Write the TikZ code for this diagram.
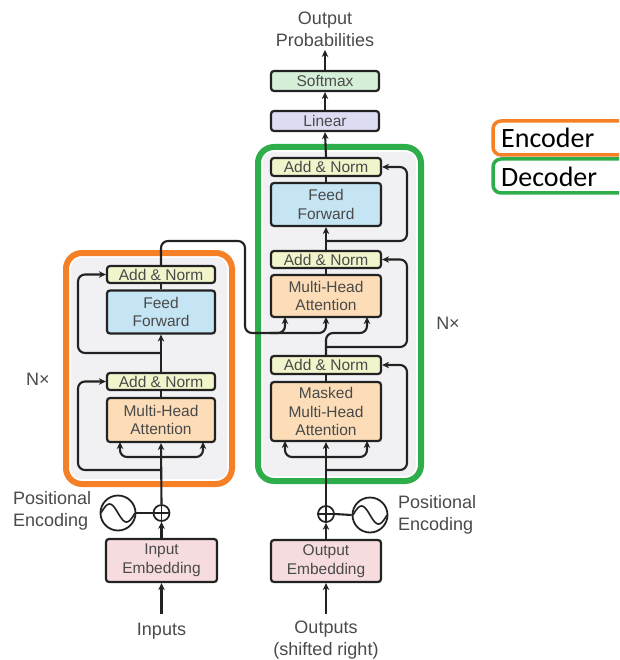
\documentclass[tikz,border=0pt]{standalone}
\usepackage{fontspec}
\setmainfont{Liberation Sans}
\newfontfamily\legfont{Carlito}
\usetikzlibrary{arrows.meta}
\definecolor{txt}{HTML}{4A4A4A}
\definecolor{edge}{HTML}{222222}
\definecolor{addc}{HTML}{F2F5CB}
\definecolor{ffc}{HTML}{C6E5F4}
\definecolor{mhac}{HTML}{FCDDB8}
\definecolor{embc}{HTML}{F6DCDF}
\definecolor{smc}{HTML}{D6EFD8}
\definecolor{linc}{HTML}{DCDCF2}
\definecolor{bgc}{HTML}{F1F1F4}
\definecolor{orangec}{HTML}{F58025}
\definecolor{greenc}{HTML}{2DAE4A}
\newcommand{\bfnt}{\fontsize{15.5}{18.5}\selectfont}
\newcommand{\ofnt}{\fontsize{18}{22}\selectfont}
\begin{document}
\begin{tikzpicture}[x=1pt,y=-1pt,
  blk/.style={draw=edge, line width=2.2pt, rounded corners=3pt, inner sep=0pt, align=center, font=\bfnt, text=txt},
  addbox/.style={blk, fill=addc, minimum height=17pt},
  ffbox/.style={blk, fill=ffc, minimum height=43pt},
  mhabox/.style={blk, fill=mhac},
  embbox/.style={blk, fill=embc, minimum width=111pt, minimum height=43pt},
  conn/.style={draw=edge, line width=2.1pt},
  arr/.style={conn, -{Stealth[length=7pt,width=6.5pt]}},
  rc/.style={rounded corners=7pt},
  lbl/.style={font=\ofnt, text=txt, align=center, inner sep=0pt},
  plus/.style={circle, draw=edge, line width=1.7pt, fill=white, minimum size=16pt, inner sep=0pt},
  sine/.style={circle, draw=edge, line width=1.8pt, fill=white, minimum size=35pt, inner sep=0pt},
  frame/.style={line width=6pt, rounded corners=16pt},
  legbox/.style={line width=3.5pt, rounded corners=8pt}
]
\clip (0,0) rectangle (619,660);
\fill[white] (0,0) rectangle (619,660);

% gray backgrounds
\fill[bgc, rounded corners=10pt] (71,258) rectangle (227,479);
\fill[bgc, rounded corners=10pt] (263,152) rectangle (416,476);

% frames
\draw[frame, draw=orangec] (66,253) rectangle (232,484);
\draw[frame, draw=greenc] (258,147) rectangle (421,481);

% ---------------- encoder ----------------
\node[addbox, minimum width=108pt] (eadd2) at (161,274.5) {Add \& Norm};
\node[ffbox, minimum width=108pt] (eff) at (161,312) {Feed\\Forward};
\node[addbox, minimum width=108pt] (eadd1) at (161,381.5) {Add \& Norm};
\node[mhabox, minimum width=108pt, minimum height=44pt] (emha) at (161,420) {Multi-Head\\Attention};
\node[embbox] (eemb) at (161.5,560.5) {Input\\Embedding};
\node[plus] (eplus) at (161.5,513) {};
\draw[edge, line width=1.5pt] (eplus.north) -- (eplus.south) (eplus.west) -- (eplus.east);
\node[sine] (esin) at (118,513) {};
\draw[edge, line width=1.6pt] plot[domain=-1:1, samples=40] ({118+17*\x},{513+9*sin(180*\x)});
\node[lbl, align=left, anchor=west] (epos) at (13,511) {Positional\\Encoding};
\node[lbl] (inputs) at (161.5,631) {Inputs};
\coordinate (ein) at (161.5,614);
\node[lbl] (enx) at (38,379) {N×};

\draw[arr] (ein) -- (eemb.south);
\draw[arr] (eemb.north) -- (eplus.south);
\draw[conn] (esin.east) -- (eplus.west);
\draw[arr] (eplus.north) -- (emha.south);
\coordinate (ebr) at (161.5,457);
\draw[arr, rc] (ebr) -| (120,442);
\draw[arr, rc] (ebr) -| (203,442);
\coordinate (eres1) at (161.5,470);
\draw[arr, rc] (eres1) -- (78,470) -- (78,381.5) -- (eadd1.west);
\draw[conn] (emha.north) -- (eadd1.south);
\draw[arr] (eadd1.north) -- (eff.south);
\coordinate (eres2) at (161.5,353);
\draw[arr, rc] (eres2) -- (78,353) -- (78,274.5) -- (eadd2.west);
\draw[conn] (eff.north) -- (eadd2.south);

% ---------------- decoder ----------------
\node[addbox, minimum width=110pt, minimum height=18pt] (dadd3) at (326,167) {Add \& Norm};
\node[ffbox, minimum width=110pt] (dff) at (326,204.5) {Feed\\Forward};
\node[addbox, minimum width=110pt] (dadd2) at (326,259.5) {Add \& Norm};
\node[mhabox, minimum width=110pt, minimum height=42pt] (dmha) at (326,296) {Multi-Head\\Attention};
\node[addbox, minimum width=110pt, minimum height=18pt] (dadd1) at (326,365) {Add \& Norm};
\node[mhabox, minimum width=110pt, minimum height=59pt] (dmmha) at (326,411.5) {Masked\\Multi-Head\\Attention};
\node[embbox, minimum width=110pt, minimum height=42pt] (demb) at (326,561) {Output\\Embedding};
\node[plus] (dplus) at (326,514) {};
\draw[edge, line width=1.5pt] (dplus.north) -- (dplus.south) (dplus.west) -- (dplus.east);
\node[sine] (dsin) at (370,515) {};
\draw[edge, line width=1.6pt] plot[domain=-1:1, samples=40] ({370+17*\x},{515+9*sin(180*\x)});
\node[lbl, align=left, anchor=west] (dpos) at (398,515) {Positional\\Encoding};
\node[lbl] (outputs) at (326,640) {Outputs\\(shifted right)};
\coordinate (din) at (326,614);
\node[lbl] (dnx) at (448,323) {N×};

\node[blk, fill=linc, minimum width=108pt, minimum height=20pt] (linear) at (325,121) {Linear};
\node[blk, fill=smc, minimum width=108pt, minimum height=20pt] (softmax) at (325,81) {Softmax};
\node[lbl] (oprob) at (325,29) {Output\\Probabilities};
\coordinate (dout) at (325,50);

\draw[arr] (din) -- (demb.south);
\draw[arr] (demb.north) -- (dplus.south);
\draw[conn] (dsin.west) -- (dplus.east);
\draw[arr] (dplus.north) -- (dmmha.south);
\coordinate (dbr) at (326,457);
\draw[arr, rc] (dbr) -| (285,441);
\draw[arr, rc] (dbr) -| (367,441);
\coordinate (dres1) at (326,470);
\draw[arr, rc] (dres1) -- (407,470) -- (407,365) -- (dadd1.east);
\draw[conn] (dmmha.north) -- (dadd1.south);

% cross attention inputs
\draw[arr, rc] (eadd2.north) |- (245,241) |- (285,333) -- (285,317);
\coordinate (ejoin) at (270,333);
\draw[arr, rc] (ejoin) -| (326,317);
\draw[arr, rc] (dadd1.north) |- (367,333) -- (367,317);
\coordinate (dres2) at (326,347);
\draw[arr, rc] (dres2) -- (407,347) -- (407,259.5) -- (dadd2.east);
\draw[conn] (dmha.north) -- (dadd2.south);
\draw[arr] (dadd2.north) -- (dff.south);
\coordinate (dres3) at (326,241);
\draw[arr, rc] (dres3) -- (407,241) -- (407,167) -- (dadd3.east);
\draw[conn] (dff.north) -- (dadd3.south);
\draw[arr] (dadd3.north) -- (linear.south);
\draw[arr] (linear.north) -- (softmax.south);
\draw[arr] (softmax.north) -- (dout);

% ---------------- legend ----------------
\draw[legbox, draw=orangec] (493,121) rectangle (650,155);
\draw[legbox, draw=greenc] (493,159) rectangle (650,193);
\node[anchor=west, inner sep=0pt, font=\legfont\fontsize{28}{30}\selectfont] (lenc) at (501,138) {Encoder};
\node[anchor=west, inner sep=0pt, font=\legfont\fontsize{28}{30}\selectfont] (ldec) at (501,177) {Decoder};
\end{tikzpicture}
\end{document}
